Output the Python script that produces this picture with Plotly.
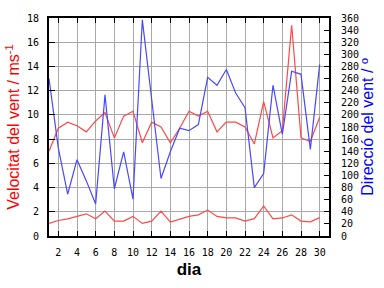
import plotly.graph_objects as go

days = list(range(1, 31))
vel_max = [7.0, 8.9, 9.4, 9.1, 8.6, 9.5, 10.2, 8.1, 9.9, 10.3, 7.7, 9.4, 9.0, 7.7, 8.9,
           10.3, 9.9, 10.3, 8.6, 9.4, 9.4, 9.0, 7.6, 11.1, 8.1, 8.7, 17.4, 8.1, 7.8, 9.8]
vel_min = [1.04, 1.28, 1.41, 1.62, 1.83, 1.43, 2.06, 1.23, 1.23, 1.62, 1.04, 1.23, 2.06, 1.15, 1.41,
           1.62, 1.75, 2.14, 1.62, 1.49, 1.49, 1.23, 1.43, 2.48, 1.41, 1.49, 1.75, 1.23, 1.17, 1.52]
direction = [260, 145, 69, 126, 91, 53, 233, 78, 139, 61, 357, 226, 95, 139, 178,
             174, 184, 262, 249, 275, 236, 212, 80, 103, 249, 168, 272, 267, 143, 283]
xticks = list(range(2, 31, 2))

RED = "#ff4848"
BLUE = "#4848ff"
tickfont = dict(family="DejaVu Sans Mono", size=10, color="black")

fig = go.Figure()
fig.add_trace(go.Scatter(x=days, y=direction, mode="lines", yaxis="y2",
                         line=dict(color=BLUE, width=1.2), showlegend=False))
fig.add_trace(go.Scatter(x=days, y=vel_max, mode="lines",
                         line=dict(color=RED, width=1.2), showlegend=False))
fig.add_trace(go.Scatter(x=days, y=vel_min, mode="lines",
                         line=dict(color=RED, width=1.2), showlegend=False))

fig.update_layout(
    width=384, height=288,
    margin=dict(l=49, r=50, t=14, b=44),
    paper_bgcolor="white", plot_bgcolor="white",
    xaxis=dict(range=[1, 31], tickvals=xticks, ticks="inside", ticklen=5,
               tickcolor="black", showline=True, linecolor="black", linewidth=2,
               mirror="ticks", showgrid=True, gridcolor="#a8a8a8", gridwidth=1,
               zeroline=False, tickfont=tickfont, ticklabelstandoff=6,
               title=dict(text="<b>dia</b>", font=dict(family="Liberation Sans", size=17, color="black"),
                          standoff=6)),
    yaxis=dict(range=[0, 18], dtick=2, ticks="inside", ticklen=6, tickcolor="black",
               showline=True, linecolor="black", linewidth=2, showgrid=True,
               gridcolor="#a8a8a8", gridwidth=1, zeroline=False, tickfont=tickfont,
               ticklabelstandoff=6,
               title=dict(text="Velocitat del vent / ms<sup>-1</sup>",
                          font=dict(family="Liberation Sans", size=16, color="#ff0000"),
                          standoff=3)),
    yaxis2=dict(range=[0, 360], dtick=20, overlaying="y", side="right", ticks="inside",
                ticklen=5, tickcolor="black", showline=True, linecolor="black", linewidth=2,
                showgrid=False, zeroline=False, tickfont=tickfont, ticklabelstandoff=8,
                title=dict(text="Direcció del vent / º",
                           font=dict(family="Liberation Sans", size=16, color="#0000ff"),
                           standoff=2)),
)

fig.write_html("out.html")
